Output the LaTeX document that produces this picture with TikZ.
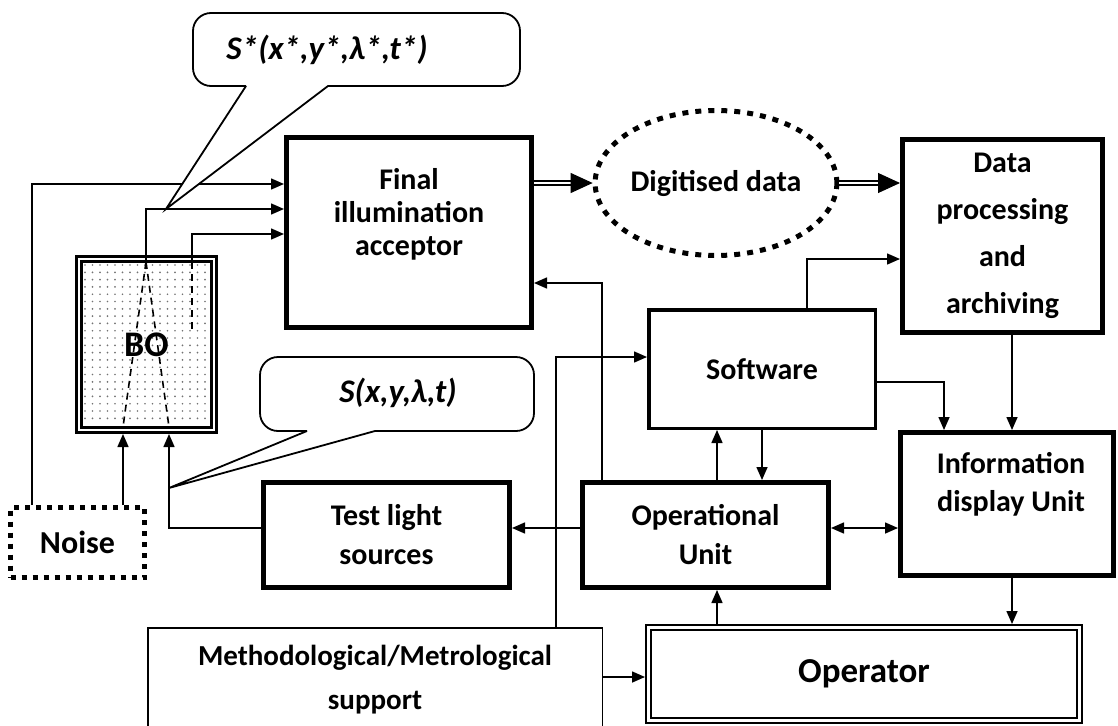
\documentclass[tikz,border=0pt]{standalone}
\usepackage{fontspec}
\setmainfont{Carlito}
\usetikzlibrary{arrows.meta,shapes.geometric}

\tikzset{
  conn/.style={line width=1.5pt,-{Triangle[length=13pt,width=11pt]}},
  biconn/.style={line width=1.5pt,{Triangle[length=13pt,width=11pt]}-{Triangle[length=13pt,width=11pt]}},
  dbl/.style={double,line width=1.8pt,double distance=2.5pt},
  bigtip/.style={line width=1pt,-{Triangle[length=22pt,width=20pt]}},
  lbl/.style={inner sep=0pt,align=center,font=\fontsize{30}{33}\selectfont\bfseries},
  thickbox/.style={draw,line width=5pt,inner sep=0pt,align=center,font=\fontsize{30}{39}\selectfont\bfseries},
  dotbox/.style={draw,line width=5pt,dash pattern=on 5pt off 6pt,inner sep=0pt,font=\fontsize{32}{36}\selectfont\bfseries},
  bubble/.style={draw,fill=white,line width=1.8pt},
  bubtxt/.style={inner sep=0pt,font=\fontsize{33}{36}\selectfont\bfseries\itshape},
  cone/.style={line width=1.6pt,dash pattern=on 7pt off 5pt}
}

\begin{document}
\begin{tikzpicture}[x=1pt,y=-1pt]
\useasboundingbox (0,0) rectangle (1118,725);

% dotted filling of BO
\foreach \i in {0,...,16}{%
  \foreach \j in {0,...,21}{%
    \fill[black!55] (85+\i*7.5,265+\j*7.3) circle (0.95);
  }
}

% blocks
\node[draw,double,line width=3pt,double distance=2pt,outer sep=4pt,minimum width=135pt,minimum height=171pt,
      font=\fontsize{36}{40}\selectfont\bfseries] (bo) at (146.5,344.5) {BO};
\node[dotbox,minimum width=134pt,minimum height=70pt] (noise) at (77.5,542.5) {Noise};
\node[thickbox,minimum width=245pt,minimum height=190pt] (fia) at (409,232.5) {};
\node[lbl] (fiatxt) at (409,214) {Final\\illumination\\acceptor};
\node[ellipse,draw,line width=5pt,dash pattern=on 6pt off 7pt,minimum width=227pt,minimum height=145pt,
      inner sep=0pt,font=\fontsize{30}{33}\selectfont\bfseries] (dig) at (716,183) {Digitised data};
\node[thickbox,minimum width=200pt,minimum height=193pt,font=\fontsize{30}{47}\selectfont\bfseries] (data) at (1002.5,236) {Data\\processing\\and\\archiving};
\node[draw,line width=3.5pt,inner sep=0pt,minimum width=226.5pt,minimum height=118.5pt,
      font=\fontsize{30}{33}\selectfont\bfseries] (soft) at (762,369) {Software};
\node[thickbox,minimum width=213pt,minimum height=143pt] (info) at (1007,504) {};
\node[lbl,font=\fontsize{30}{38}\selectfont\bfseries] (infotxt) at (1011,484) {Information\\display Unit};
\node[thickbox,minimum width=246pt,minimum height=105pt] (op) at (705.5,535) {Operational\\Unit};
\node[thickbox,minimum width=246pt,minimum height=105pt] (tls) at (386.5,535) {Test light\\sources};
\node[draw,double,line width=2pt,double distance=3pt,outer sep=3.5pt,minimum width=431pt,minimum height=93pt,
      font=\fontsize{35}{40}\selectfont\bfseries] (oper) at (864,674) {Operator};
\node[draw,line width=1.5pt,inner sep=0pt,align=center,minimum width=454.5pt,minimum height=104.5pt,
      font=\fontsize{29}{44}\selectfont\bfseries] (meth) at (375,680) {Methodological/Metrological\\support};

% bend points
\coordinate (nz) at (32,184);
\coordinate (xa) at (123,0);
\coordinate (xb) at (169,0);
\coordinate (boL) at (146,262);
\coordinate (boR) at (192,262);
\coordinate (xc) at (146,209);
\coordinate (xd) at (192,234);
\coordinate (opf) at (602,283);
\coordinate (msw) at (556,357);
\coordinate (sd) at (807,259);
\coordinate (si) at (944,382);
\coordinate (di) at (1012,0);
\coordinate (os1) at (717,0);
\coordinate (os2) at (762,0);
\coordinate (oi) at (0,528);
\coordinate (mo) at (0,677);
\coordinate (dw) at (data.west |- dig.east);

% light paths inside BO
\draw[cone] (boL) -- (123,427);
\draw[cone] (boL) -- (169,427);
\draw[cone] (boR) -- (192,333);

% connectors
\draw[conn] (noise.north -| nz) |- (fia.west |- nz);
\draw[conn] (noise.north -| xa) -- (bo.south -| xa);
\draw[conn] (boL) |- (fia.west |- xc);
\draw[conn] (boR) |- (fia.west |- xd);
\draw[dbl] (fia.east |- dig.west) -- ([xshift=-20pt]dig.west);
\draw[bigtip] ([xshift=-22pt]dig.west) -- (dig.west);
\draw[dbl] (dig.east) -- ([xshift=-20pt]dw);
\draw[bigtip] ([xshift=-22pt]dw) -- (dw);
\draw[conn] (op.north -| opf) |- (fia.east |- opf);
\draw[conn] (meth.north -| msw) |- (soft.west |- msw);
\draw[conn] (soft.north -| sd) |- (data.west |- sd);
\draw[conn] (soft.east |- si) -| (info.north -| si);
\draw[conn] (data.south -| di) -- (info.north -| di);
\draw[conn] (op.north -| os1) -- (soft.south -| os1);
\draw[conn] (soft.south -| os2) -- (op.north -| os2);
\draw[biconn] (op.east |- oi) -- (info.west |- oi);
\draw[conn] (op.west |- oi) -- (tls.east |- oi);
\draw[conn] (tls.west |- oi) -| (bo.south -| xb);
\draw[conn] (oper.north -| os1) -- (op.south -| os1);
\draw[conn] (info.south -| di) -- (oper.north -| di);
\draw[conn] (meth.east |- mo) -- (oper.west |- mo);

% callouts
\coordinate (tipA) at (166,209);
\coordinate (tipB) at (169,488);
\draw[bubble] (246,86) -- (tipA) -- (328,86) [rounded corners=18pt] -- (520,86) -- (520,13) -- (193,13) -- (193,86) -- (246,86);
\node[bubtxt] (sstar) at (327,50) {S*(x*,y*,λ*,t*)};
\draw[bubble] (307,431) -- (tipB) -- (375,431) [rounded corners=18pt] -- (534,431) -- (534,357) -- (260,357) -- (260,431) -- (307,431);
\node[bubtxt] (sxy) at (398,393) {S(x,y,λ,t)};
\end{tikzpicture}
\end{document}
